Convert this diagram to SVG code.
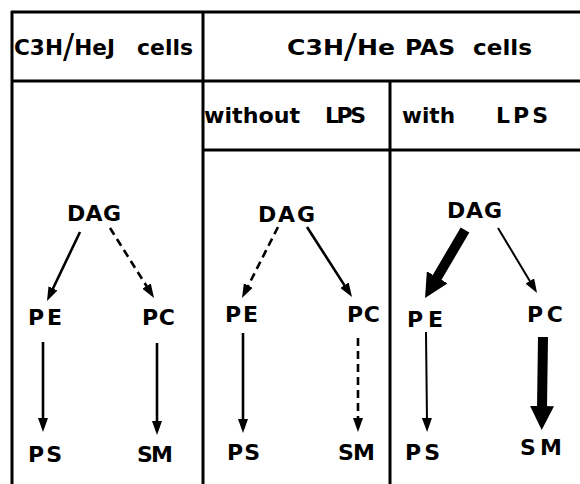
<svg xmlns="http://www.w3.org/2000/svg" width="580" height="484" viewBox="0 0 580 484">
  <style>
    .grid { stroke: #000; stroke-width: 3; fill: none; }
    .hdr { font-family: "DejaVu Sans", "Liberation Sans", Arial, sans-serif; font-weight: bold; font-size: 22px; fill: #000; }
    .sl { font-weight: normal; font-size: 34px; }
    .lbl { font-family: "DejaVu Sans", "Liberation Sans", Arial, sans-serif; font-weight: bold; font-size: 22px; fill: #000; }
    .arr { stroke: #000; stroke-width: 2.6; fill: none; marker-end: url(#head); }
    .thin { stroke-width: 2; }
    .dash { stroke-dasharray: 8 5; }
    .thick { stroke: #000; stroke-width: 10; fill: none; marker-end: url(#bighead); }
  </style>
  <defs>
    <marker id="head" viewBox="0 0 14 10" refX="4" refY="5" markerWidth="14" markerHeight="10" markerUnits="userSpaceOnUse" orient="auto">
      <path d="M0,0 L14,5 L0,10 z" fill="#000"/>
    </marker>
    <marker id="bighead" viewBox="0 0 24 24" refX="2" refY="12" markerWidth="24" markerHeight="24" markerUnits="userSpaceOnUse" orient="auto">
      <path d="M0,0 L24,12 L0,24 z" fill="#000"/>
    </marker>
  </defs>
  <rect width="580" height="484" fill="#fff"/>

  <!-- table rules -->
  <g id="table">
    <line class="grid" x1="11" y1="12" x2="580" y2="12"/>
    <line class="grid" x1="12" y1="11" x2="12" y2="484"/>
    <line class="grid" x1="203" y1="11" x2="203" y2="484"/>
    <line class="grid" x1="11" y1="81" x2="580" y2="81"/>
    <line class="grid" x1="203" y1="150" x2="580" y2="150"/>
    <line class="grid" x1="390" y1="81" x2="390" y2="484"/>
  </g>

  <!-- column headers -->
  <g id="headers">
    <text class="hdr" x="14" y="55" textLength="101" lengthAdjust="spacingAndGlyphs">C3H<tspan class="sl" dy="3">/</tspan><tspan dy="-3">HeJ</tspan></text>
    <text class="hdr" x="137" y="55" textLength="56" lengthAdjust="spacingAndGlyphs">cells</text>
    <text class="hdr" x="287" y="55" textLength="108" lengthAdjust="spacingAndGlyphs">C3H<tspan class="sl" dy="3">/</tspan><tspan dy="-3">He</tspan></text>
    <text class="hdr" x="405" y="55" textLength="50" lengthAdjust="spacingAndGlyphs">PAS</text>
    <text class="hdr" x="473" y="55" textLength="59" lengthAdjust="spacingAndGlyphs">cells</text>
    <text class="hdr" x="204" y="123" textLength="96" lengthAdjust="spacingAndGlyphs">without</text>
    <text class="hdr" x="325" y="123" textLength="41" lengthAdjust="spacing">LPS</text>
    <text class="hdr" x="402" y="123" textLength="53" lengthAdjust="spacingAndGlyphs">with</text>
    <text class="hdr" x="496" y="123" textLength="52" lengthAdjust="spacing">LPS</text>
  </g>

  <!-- C3H/HeJ panel -->
  <g id="hej-DAG"><text class="lbl" x="67" y="221" textLength="54" lengthAdjust="spacing">DAG</text></g>
  <g id="hej-PE"><text class="lbl" x="28" y="325" textLength="34" lengthAdjust="spacing">PE</text></g>
  <g id="hej-PC"><text class="lbl" x="142" y="325" textLength="33" lengthAdjust="spacing">PC</text></g>
  <g id="hej-PS"><text class="lbl" x="28" y="462" textLength="34" lengthAdjust="spacing">PS</text></g>
  <g id="hej-SM"><text class="lbl" x="137" y="462" textLength="36" lengthAdjust="spacing">SM</text></g>

  <!-- PAS without LPS panel -->
  <g id="pas-DAG"><text class="lbl" x="258" y="222" textLength="57" lengthAdjust="spacing">DAG</text></g>
  <g id="pas-PE"><text class="lbl" x="225" y="322" textLength="33" lengthAdjust="spacing">PE</text></g>
  <g id="pas-PC"><text class="lbl" x="347" y="322" textLength="33" lengthAdjust="spacing">PC</text></g>
  <g id="pas-PS"><text class="lbl" x="227" y="460" textLength="33" lengthAdjust="spacing">PS</text></g>
  <g id="pas-SM"><text class="lbl" x="338" y="460" textLength="37" lengthAdjust="spacing">SM</text></g>

  <!-- PAS with LPS panel -->
  <g id="lps-DAG"><text class="lbl" x="447" y="218" textLength="55" lengthAdjust="spacing">DAG</text></g>
  <g id="lps-PE"><text class="lbl" x="407" y="327" textLength="36" lengthAdjust="spacing">PE</text></g>
  <g id="lps-PC"><text class="lbl" x="527" y="322" textLength="36" lengthAdjust="spacing">PC</text></g>
  <g id="lps-PS"><text class="lbl" x="405" y="460" textLength="35" lengthAdjust="spacing">PS</text></g>
  <g id="lps-SM"><text class="lbl" x="520" y="455" textLength="42" lengthAdjust="spacing">SM</text></g>

  <!-- metabolic conversions -->
  <g id="connectors">
    <line class="arr" x1="80" y1="232" x2="51.3" y2="292"/>
    <line class="arr dash" x1="110" y1="228" x2="148.7" y2="289.5"/>
    <line class="arr" x1="43" y1="342" x2="43" y2="422"/>
    <line class="arr" x1="157" y1="343" x2="157" y2="425"/>

    <line class="arr dash" x1="278" y1="227" x2="246.5" y2="289.1"/>
    <line class="arr" x1="307" y1="227" x2="346.6" y2="288.6"/>
    <line class="arr" x1="243" y1="333" x2="243" y2="423"/>
    <line class="arr dash" x1="358" y1="338" x2="358" y2="422"/>

    <line class="thick" x1="465" y1="230" x2="436.2" y2="279"/>
    <line class="arr thin" x1="498" y1="228" x2="531.9" y2="284.4"/>
    <line class="arr thin" x1="426" y1="332" x2="427" y2="422"/>
    <line class="thick" x1="543" y1="337" x2="542" y2="408"/>
  </g>
</svg>
